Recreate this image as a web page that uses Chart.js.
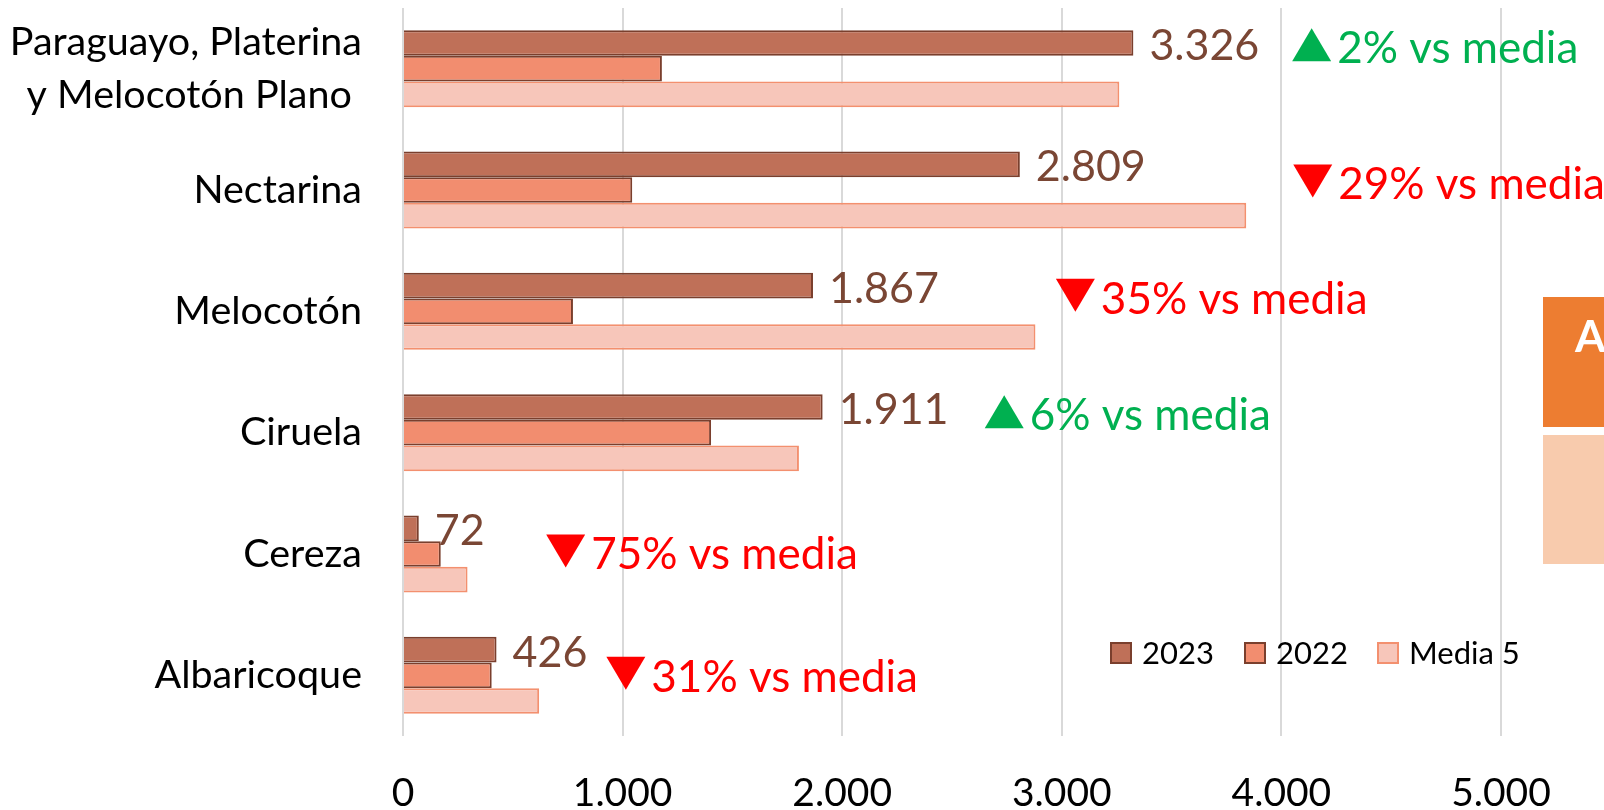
<!DOCTYPE html>
<html lang="es">
<head>
<meta charset="utf-8">
<title>Producción de fruta de hueso</title>
<script src="https://cdn.jsdelivr.net/npm/chart.js@4.4.1/dist/chart.umd.min.js"></script>
<style>
  html, body { margin: 0; padding: 0; background: #ffffff; }
  #wrap { position: relative; width: 1604px; height: 810px; }
</style>
</head>
<body>
<div id="wrap"><canvas id="chart" width="1604" height="810"></canvas></div>
<script>
// Categories (top to bottom)
const categories = [
  ['Paraguayo, Platerina', 'y Melocotón Plano '],
  'Nectarina',
  'Melocotón',
  'Ciruela',
  'Cereza',
  'Albaricoque'
];

// Series values
const values2023 = [3326, 2809, 1867, 1911, 72, 426];
const values2022 = [1179, 1044, 774, 1403, 172, 404];
const valuesMedia5 = [3262, 3840, 2880, 1803, 294, 620];

// Change of 2023 against the five-year average, in percent
const pctVsMedia = [2, -29, -35, 6, -75, -31];

// Axis ticks
const xTickValues = [0, 1000, 2000, 3000, 4000, 5000];

const seriesNames = ['2023', '2022', 'Media 5'];

// Where each "% vs media" note sits: left edge in axis units, vertical shift from the category centre
const noteAnchor = [
  { at: 4049, dy: -22 },
  { at: 4054, dy: -7 },
  { at: 2973, dy: -14 },
  { at: 2649, dy: -19 },
  { at: 652,  dy: -1 },
  { at: 926,  dy: 0 }
];

const FONT = 'Lato, "Open Sans", sans-serif';
const COLORS = {
  fill2023: '#BF7058', line2023: '#7A3F2D',
  fill2022: '#F28D6F', line2022: '#7A3F2D',
  fillMedia: '#F7C6BA', lineMedia: '#F3906F',
  valueText: '#7A4634',
  up: '#00B050', down: '#FF0000',
  grid: '#D9D9D9'
};

function fmtThousands(v) {
  return String(Math.round(v)).replace(/\B(?=(\d{3})+(?!\d))/g, '.');
}

// Value labels at the end of the 2023 bars
const valueLabels = {
  id: 'valueLabels',
  afterDatasetsDraw(chart) {
    const ctx = chart.ctx;
    const meta = chart.getDatasetMeta(0);
    ctx.save();
    ctx.font = '43px ' + FONT;
    ctx.fillStyle = COLORS.valueText;
    ctx.textAlign = 'left';
    ctx.textBaseline = 'middle';
    meta.data.forEach((bar, i) => {
      ctx.fillText(fmtThousands(values2023[i]), bar.x + 16, bar.y + 3);
    });
    ctx.restore();
  }
};

// "▲/▼ n% vs media" notes
const mediaNotes = {
  id: 'mediaNotes',
  afterDatasetsDraw(chart) {
    const ctx = chart.ctx;
    const xs = chart.scales.x, ys = chart.scales.y;
    ctx.save();
    pctVsMedia.forEach((p, i) => {
      const left = xs.getPixelForValue(noteAnchor[i].at);
      const cy = ys.getPixelForValue(i) + noteAnchor[i].dy;
      const color = p >= 0 ? COLORS.up : COLORS.down;
      const w = 39, h = 33, ty = cy - 2;
      ctx.fillStyle = color;
      ctx.beginPath();
      if (p >= 0) {
        ctx.moveTo(left, ty + h / 2);
        ctx.lineTo(left + w, ty + h / 2);
        ctx.lineTo(left + w / 2, ty - h / 2);
      } else {
        ctx.moveTo(left, ty - h / 2);
        ctx.lineTo(left + w, ty - h / 2);
        ctx.lineTo(left + w / 2, ty + h / 2);
      }
      ctx.closePath();
      ctx.fill();
      ctx.font = '44px ' + FONT;
      ctx.textAlign = 'left';
      ctx.textBaseline = 'middle';
      ctx.fillText(Math.abs(p) + '% vs media', left + 45, cy + 2);
    });
    ctx.restore();
  }
};

// Legend drawn inside the plot, bottom right
const insideLegend = {
  id: 'insideLegend',
  afterDraw(chart) {
    const ctx = chart.ctx;
    const ca = chart.chartArea;
    const y = ca.bottom - 94;
    const starts = [ca.right - 391, ca.right - 257, ca.right - 124];
    ctx.save();
    ctx.font = '31px ' + FONT;
    ctx.textBaseline = 'middle';
    ctx.textAlign = 'left';
    chart.data.datasets.forEach((ds, i) => {
      const x = starts[i];
      ctx.fillStyle = ds.backgroundColor;
      ctx.fillRect(x, y, 22, 22);
      ctx.strokeStyle = ds.borderColor;
      ctx.lineWidth = 2;
      ctx.strokeRect(x + 1, y + 1, 20, 20);
      ctx.fillStyle = '#000000';
      ctx.fillText(ds.label, x + 32, y + 12);
    });
    ctx.restore();
  }
};

// Side tabs at the right edge
const sideTabs = {
  id: 'sideTabs',
  afterDraw(chart) {
    const ctx = chart.ctx;
    ctx.save();
    ctx.fillStyle = '#ED7D31';
    ctx.fillRect(1543, 297, 61, 130);
    ctx.fillStyle = '#F8CBAD';
    ctx.fillRect(1543, 435, 61, 129);
    ctx.fillStyle = '#FFFFFF';
    ctx.font = 'bold 44px ' + FONT;
    ctx.textAlign = 'left';
    ctx.textBaseline = 'middle';
    ctx.fillText('A', 1575, 338);
    ctx.restore();
  }
};

new Chart(document.getElementById('chart'), {
  type: 'bar',
  data: {
    labels: categories,
    datasets: [
      { label: seriesNames[0], data: values2023, backgroundColor: COLORS.fill2023, borderColor: COLORS.line2023, borderWidth: 2 },
      { label: seriesNames[1], data: values2022, backgroundColor: COLORS.fill2022, borderColor: COLORS.line2022, borderWidth: 2 },
      { label: seriesNames[2], data: valuesMedia5, backgroundColor: COLORS.fillMedia, borderColor: COLORS.lineMedia, borderWidth: 2 }
    ]
  },
  options: {
    indexAxis: 'y',
    responsive: false,
    animation: false,
    devicePixelRatio: 1,
    layout: { padding: { top: 8, right: 103, bottom: 0, left: 0 } },
    datasets: { bar: { categoryPercentage: 0.635, barPercentage: 1.0 } },
    plugins: {
      legend: { display: false },
      tooltip: { enabled: false }
    },
    scales: {
      x: {
        type: 'linear',
        min: 0,
        max: 5000,
        afterBuildTicks(scale) { scale.ticks = xTickValues.map(v => ({ value: v })); },
        afterFit(scale) {
          scale.height = 74;
          scale.paddingLeft = 0;
          scale.paddingRight = 0;
        },
        border: { display: false },
        grid: { color: COLORS.grid, lineWidth: 2, drawTicks: false },
        ticks: {
          padding: 34,
          color: '#000000',
          font: { family: FONT, size: 39 },
          callback: v => fmtThousands(v)
        }
      },
      y: {
        afterFit(scale) {
          scale.width = 403;
          scale.paddingTop = 0;
          scale.paddingBottom = 0;
        },
        border: { display: false },
        grid: { display: false, drawTicks: false },
        ticks: {
          padding: 41,
          color: '#000000',
          font: { family: FONT, size: 39.5, lineHeight: 1.35 }
        }
      }
    }
  },
  plugins: [valueLabels, mediaNotes, insideLegend, sideTabs]
});
</script>
</body>
</html>
